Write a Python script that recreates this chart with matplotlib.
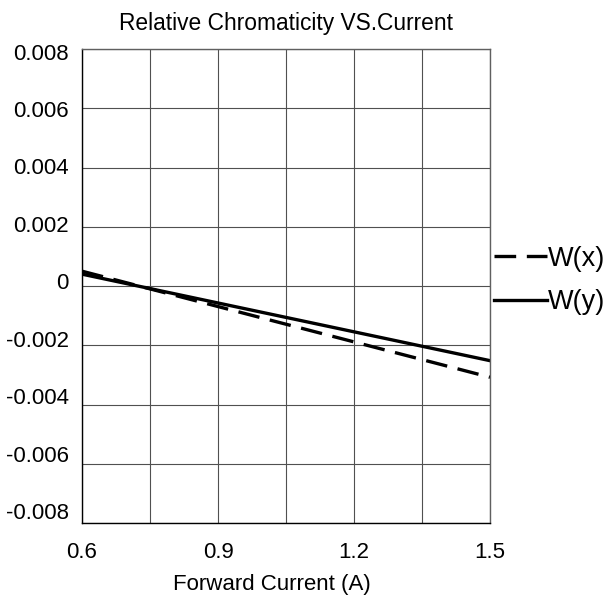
import matplotlib
matplotlib.use("Agg")
import matplotlib.pyplot as plt
import matplotlib.transforms as mtransforms

plt.rcParams['font.family'] = ['Liberation Sans', 'DejaVu Sans']

current = [0.6, 1.5]
wx = [0.0005, -0.00308]
wy = [0.0004, -0.00252]
xticks = [0.6, 0.9, 1.2, 1.5]
xtick_labels = ["0.6", "0.9", "1.2", "1.5"]
yticks = [-0.008, -0.006, -0.004, -0.002, 0, 0.002, 0.004, 0.006, 0.008]
ytick_labels = ["-0.008", "-0.006", "-0.004", "-0.002", "0", "0.002", "0.004", "0.006", "0.008"]
xgrid = [0.6, 0.75, 0.9, 1.05, 1.2, 1.35, 1.5]

W, H = 610, 601
fig = plt.figure(figsize=(W/100, H/100), dpi=100)
ax = fig.add_axes([82/W, 1-523/H, 408/W, 474/H])

ax.plot(current, wx, color='black', lw=2.4, dashes=(6.5, 3.2), label='W(x)')
ax.plot(current, wy, color='black', lw=2.4, label='W(y)')

ax.set_xlim(0.6, 1.5)
ax.set_ylim(-0.008, 0.008)
ax.set_xticks(xticks)
ax.set_xticklabels(xtick_labels)
ax.set_xticks(xgrid, minor=True)
ax.set_yticks(yticks)
ax.set_yticklabels(ytick_labels)
ax.grid(True, which='both', color='#505050', lw=0.8)
ax.tick_params(which='both', length=0, labelsize=16)
ax.tick_params(axis='x', pad=13.5)
ax.tick_params(axis='y', pad=9.5)
for s in ax.spines.values():
    s.set_color('#606060')
    s.set_linewidth(1.0)
ax.spines['left'].set_color('black')
ax.spines['bottom'].set_color('black')
ax.set_axisbelow(True)

# y tick labels sit slightly off their grid lines (evenly compressed)
n = len(yticks)
for i, lab in enumerate(ax.get_yticklabels()):
    frac = i / (n - 1)  # 0 at bottom, 1 at top
    dy_px = 12 * (1 - frac) - 2.5 * frac
    lab.set_transform(lab.get_transform() +
                      mtransforms.ScaledTranslation(0, dy_px / 100, fig.dpi_scale_trans))

ax.set_title("Relative Chromaticity VS.Current", fontsize=16.4, pad=14)
ax.set_xlabel("Forward Current (A)", fontsize=16)
ax.xaxis.set_label_coords(0.465, -0.108)

leg = ax.legend(loc='center left', bbox_to_anchor=(1.0, 0.512), frameon=False,
                fontsize=19.5, handlelength=1.95, handletextpad=0.05, labelspacing=0.65,
                borderaxespad=0.0, borderpad=0.15)

fig.savefig("out.png", dpi=100)
